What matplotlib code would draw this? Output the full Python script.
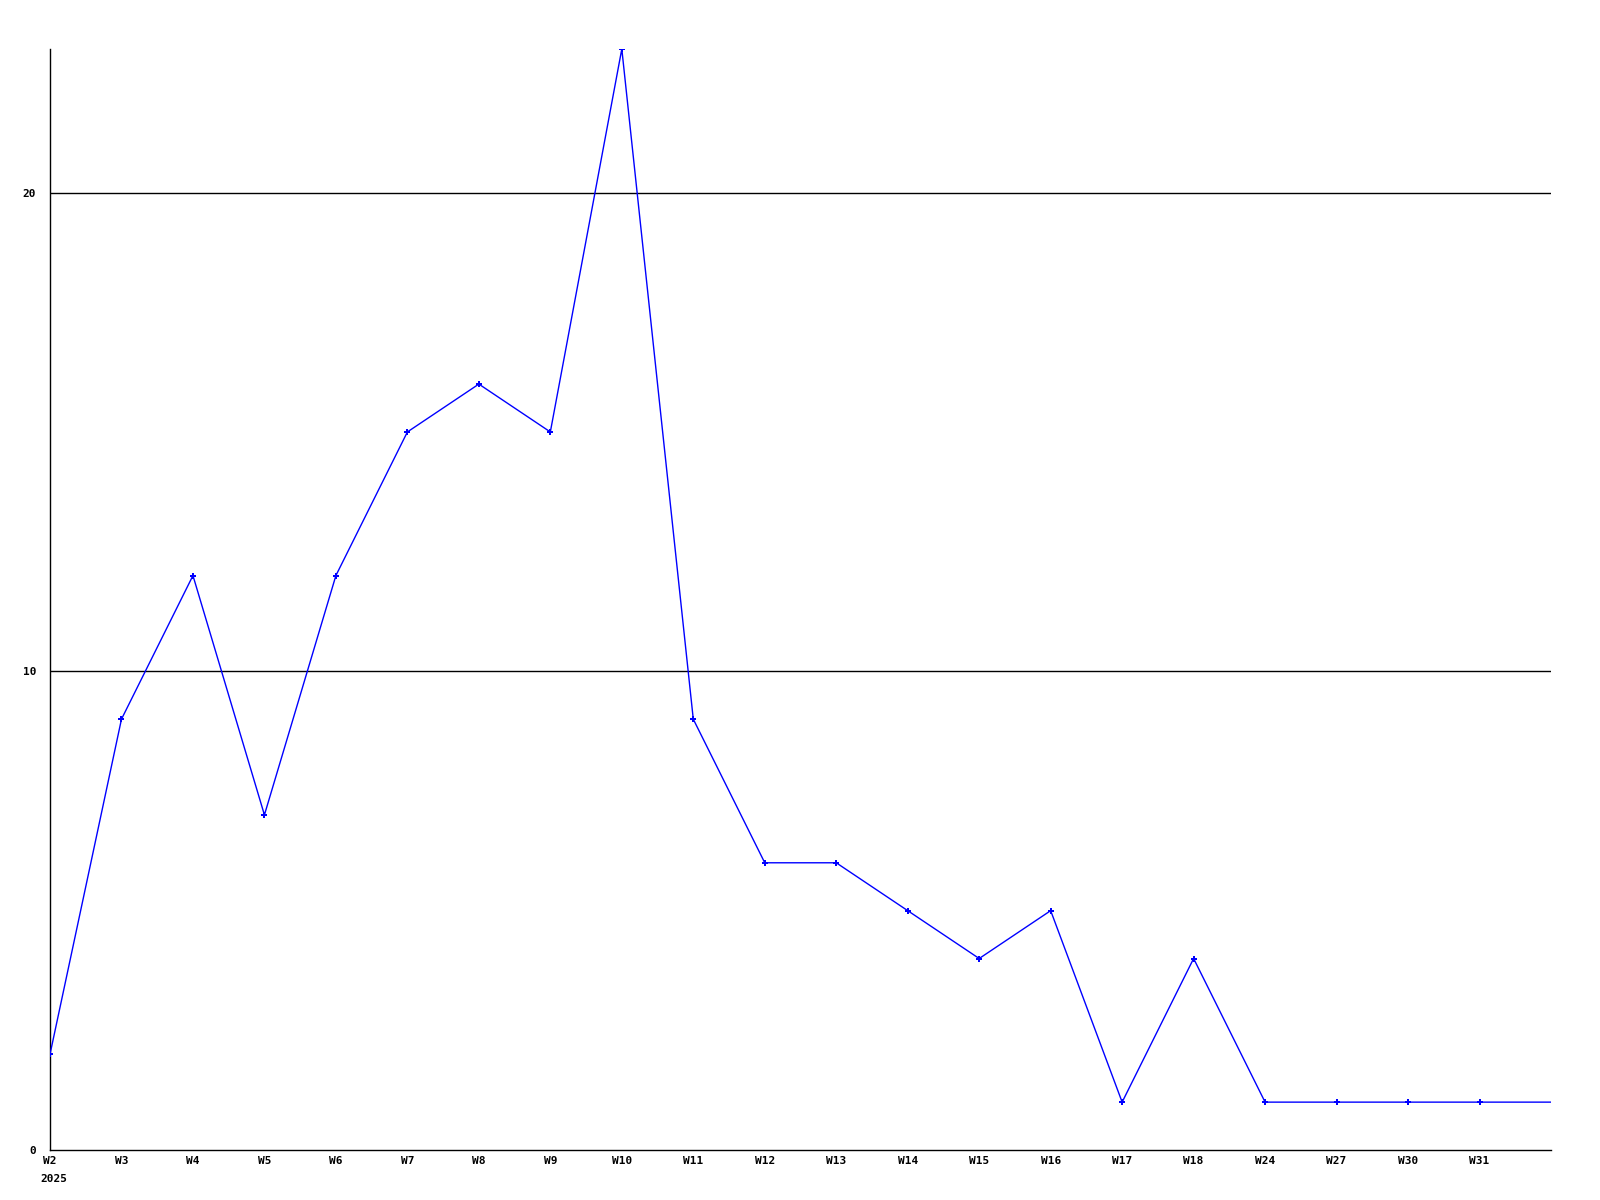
import matplotlib.pyplot as plt

weeks = ['W2', 'W3', 'W4', 'W5', 'W6', 'W7', 'W8', 'W9', 'W10', 'W11', 'W12',
         'W13', 'W14', 'W15', 'W16', 'W17', 'W18', 'W24', 'W27', 'W30', 'W31']
counts = [2, 9, 12, 7, 12, 15, 16, 15, 23, 9, 6, 6, 5, 4, 5, 1, 4, 1, 1, 1, 1]
# line runs on to the right edge at the last value
tail_value = 1
year_label = '2025'
y_ticks = [0, 10, 20]

fig = plt.figure(figsize=(16, 12), dpi=100)
ax = fig.add_axes([50 / 1600, 1 - 1150 / 1200, 1501 / 1600, 1101 / 1200])

xs = list(range(len(counts))) + [len(counts)]
ys = counts + [tail_value]
ax.plot(xs, ys, color='#0000ff', linewidth=1, marker='P', markersize=4,
        markeredgewidth=0, markevery=list(range(len(counts))), zorder=3)

for v in y_ticks[1:]:
    ax.axhline(v, color='black', linewidth=1, zorder=1)

ax.set_xlim(0, len(counts))
ax.set_ylim(0, 23)
ax.set_xticks(range(len(weeks)))
ax.set_xticklabels(weeks)
ax.set_yticks(y_ticks)
ax.set_yticklabels([str(v) for v in y_ticks])
ax.tick_params(length=0, labelsize=8)
ax.tick_params(axis='x', pad=4)
ax.tick_params(axis='y', pad=10)
for lbl in ax.get_xticklabels() + ax.get_yticklabels():
    lbl.set_fontfamily('DejaVu Sans Mono')
    lbl.set_fontweight('bold')

ax.annotate(year_label, xy=(0, 0), xycoords='axes fraction',
            xytext=(-7, -17), textcoords='offset points',
            ha='left', va='top', fontsize=8, fontfamily='DejaVu Sans Mono',
            fontweight='bold')

for side in ['top', 'right']:
    ax.spines[side].set_visible(False)
ax.spines['left'].set_linewidth(1)
ax.spines['bottom'].set_linewidth(1)

fig.savefig('out.png', dpi=100)
